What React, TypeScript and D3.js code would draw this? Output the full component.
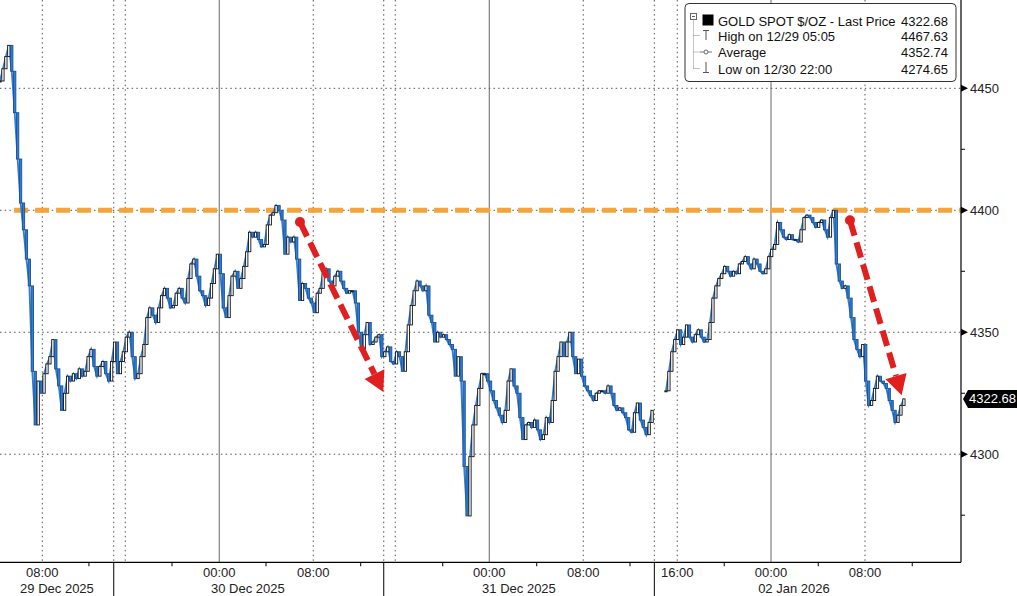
import React from "react";
import * as d3 from "d3";

const W = 1017;
const H = 596;

// 15-minute closes, 29 Dec 04:30 -> 31 Dec 14:00
const decCloses = [
  4453, 4458, 4463, 4467.6, 4457, 4440, 4421, 4403, 4392, 4380, 4369, 4334, 4312, 4330, 4325, 4333,
  4337, 4340, 4347, 4335, 4328, 4318, 4325, 4332, 4330, 4333, 4331, 4335, 4332, 4334, 4340, 4343,
  4336, 4332, 4336, 4338, 4333, 4330, 4338, 4346, 4333, 4338, 4342, 4348, 4350, 4340, 4331, 4333,
  4340, 4345, 4356, 4360, 4357, 4354, 4360, 4365, 4368, 4364, 4360, 4361, 4366, 4368, 4364, 4362,
  4372, 4378, 4380, 4373, 4367, 4365, 4361, 4364, 4370, 4376, 4382, 4374, 4360, 4356, 4365, 4373,
  4375, 4368, 4372, 4377, 4383, 4391, 4389, 4391, 4388, 4385, 4386, 4394, 4398, 4399, 4402, 4400,
  4396, 4382, 4389, 4387, 4389, 4380, 4363, 4370, 4368, 4364, 4362, 4358, 4366, 4368, 4374, 4376,
  4371, 4369, 4373, 4375, 4371, 4368, 4366, 4367, 4367, 4362, 4350, 4343, 4349, 4354, 4345, 4346,
  4348, 4349, 4340, 4342, 4344, 4338, 4337, 4342, 4340, 4334, 4342, 4353, 4361, 4367, 4371, 4369,
  4367, 4369, 4357, 4354, 4346, 4350, 4348, 4349, 4347, 4345, 4343, 4332, 4340, 4330, 4295, 4274.7,
  4299, 4312, 4320, 4327, 4333, 4333, 4330, 4326, 4322, 4319, 4316, 4313, 4318, 4330, 4335, 4328,
  4325, 4315, 4306, 4312, 4313, 4311, 4314, 4310, 4306, 4308, 4315, 4313, 4322, 4334, 4340, 4346,
  4340, 4346, 4350, 4340, 4333, 4339, 4332, 4328, 4326, 4324, 4322, 4325, 4326, 4326, 4325, 4328,
  4325, 4320, 4318, 4319, 4317, 4315, 4310, 4309, 4317, 4321, 4314, 4311, 4308, 4313, 4318,
];

// 15-minute closes, 01 Jan evening -> 02 Jan
const janCloses = [
  4326, 4334, 4342, 4347, 4351, 4345, 4348, 4353, 4348, 4346, 4349, 4351, 4348, 4346, 4347, 4354,
  4364, 4369, 4372, 4374, 4377, 4375, 4373, 4375, 4374, 4378, 4379, 4381, 4378, 4376, 4380, 4378,
  4375, 4374, 4376, 4381, 4384, 4386, 4395, 4392, 4389, 4388, 4390, 4388, 4388, 4387, 4392, 4397,
  4398, 4397, 4395, 4393, 4395, 4396, 4392, 4389, 4397, 4400, 4378, 4371, 4368, 4369, 4364, 4356,
  4347, 4343, 4340, 4345, 4330, 4320, 4322, 4327, 4332, 4330, 4329, 4327, 4322, 4318, 4313, 4316,
  4320, 4322.68,
];

// x positions in compressed session hours (Bloomberg skips non-trading time)
const decStart = 0;
const janStart = 56.68;
const barStep = 0.25;
const xMax = 81.79;

const lastPrice = 4322.68;
const resistance = 4400;
const resistanceFrom = 1.2;
const yMajor = [4300, 4350, 4400, 4450];
const yMinor = [4275, 4325, 4375, 4425];

const timeLabels = [
  { h: 3.6, label: "08:00", midnight: false },
  { h: 18.66, label: "00:00", midnight: true },
  { h: 26.66, label: "08:00", midnight: false },
  { h: 41.64, label: "00:00", midnight: true },
  { h: 49.64, label: "08:00", midnight: false },
  { h: 57.64, label: "16:00", midnight: false },
  { h: 65.62, label: "00:00", midnight: true },
  { h: 73.62, label: "08:00", midnight: false },
];
const sessionOpens = [10.66, 33.64];
const daySeparators = [9.68, 32.66, 55.69];
const minorTimeTicks = [7.57, 14.64, 22.64, 30.7, 37.68, 45.68, 53.62, 61.64, 69.64, 77.64];
const dayLabels = [
  { h: 4.85, label: "29 Dec 2025" },
  { h: 21.1, label: "30 Dec 2025" },
  { h: 44.17, label: "31 Dec 2025" },
  { h: 67.57, label: "02 Jan 2026" },
];

const legendRows = [
  { label: "GOLD SPOT $/OZ - Last Price", value: "4322.68" },
  { label: "High on 12/29 05:05", value: "4467.63" },
  { label: "Average", value: "4352.74" },
  { label: "Low on 12/30 22:00", value: "4274.65" },
];

const arrows = [
  { from: [25.53, 4395.2], to: [32.62, 4325.5] },
  { from: [72.34, 4395.9], to: [76.74, 4324.2] },
];

const plotRight = 961;
const plotBottom = 562.3;

const x = d3.scaleLinear().domain([0, xMax]).range([0, plotRight]);
const y = d3.scaleLinear().domain([4255.7, 4486.2]).range([plotBottom, 0]);

const BLUE = "#2f7fd6";
const axisFont = "'Liberation Sans', Arial, sans-serif";
const narrowFont = "'Liberation Sans Narrow', 'Liberation Sans', Arial, sans-serif";

function bars(closes: number[], start: number) {
  return closes.map((c, i) => ({
    h: start + i * barStep,
    open: i === 0 ? c : closes[i - 1],
    close: c,
  }));
}

const line = d3
  .line<{ h: number; close: number }>()
  .x((d) => x(d.h))
  .y((d) => y(d.close));

function Arrow({ from, to }: { from: number[]; to: number[] }) {
  const x0 = x(from[0]);
  const y0 = y(from[1]);
  const x1 = x(to[0]);
  const y1 = y(to[1]);
  const a = Math.atan2(y1 - y0, x1 - x0);
  const head = 20;
  const half = 11;
  const bx = x1 - head * Math.cos(a);
  const by = y1 - head * Math.sin(a);
  const px = -Math.sin(a);
  const py = Math.cos(a);
  const pts = [
    [x1, y1],
    [bx + half * px, by + half * py],
    [bx - half * px, by - half * py],
  ];
  return (
    <g>
      <line x1={x0} y1={y0} x2={bx} y2={by} stroke="#e01f1f" strokeWidth={6} strokeDasharray="16 7" />
      <circle cx={x0} cy={y0} r={5} fill="#e01f1f" />
      <polygon points={pts.map((p) => p.join(",")).join(" ")} fill="#e01f1f" />
    </g>
  );
}

export default function App() {
  const segments = [bars(decCloses, decStart), bars(janCloses, janStart)];
  const bw = 2.3;

  return (
    <svg
      width={W}
      height={H}
      style={{ position: "absolute", left: 0, top: 0, background: "#fff" }}
    >
      {/* horizontal grid */}
      {yMajor.map((v) => (
        <line key={"hg" + v} x1={0} x2={plotRight} y1={y(v)} y2={y(v)} stroke="#555" strokeWidth={1} strokeDasharray="1.5 3.2" />
      ))}
      {/* vertical grid */}
      {timeLabels.map((t) => (
        <line
          key={"vg" + t.h}
          x1={x(t.h)}
          x2={x(t.h)}
          y1={0}
          y2={plotBottom}
          stroke={t.midnight ? "#666" : "#555"}
          strokeWidth={1}
          strokeDasharray={t.midnight ? undefined : "1.5 3.2"}
        />
      ))}
      {[...sessionOpens, ...daySeparators].map((h) => (
        <line key={"vs" + h} x1={x(h)} x2={x(h)} y1={0} y2={plotBottom} stroke="#555" strokeWidth={1} strokeDasharray="1.5 3.2" />
      ))}

      {/* resistance line */}
      <line
        x1={x(resistanceFrom)}
        x2={plotRight}
        y1={y(resistance)}
        y2={y(resistance)}
        stroke="#f4a43a"
        strokeWidth={5}
        strokeDasharray="14 7"
      />

      {/* price */}
      {segments.map((seg, si) => (
        <g key={"s" + si}>
          <path d={line(seg) || ""} fill="none" stroke={BLUE} strokeWidth={1.8} />
          {seg.map((b, i) => {
            const up = b.close >= b.open;
            const top = y(Math.max(b.open, b.close));
            const bot = y(Math.min(b.open, b.close));
            return (
              <rect
                key={i}
                x={x(b.h) - bw / 2}
                y={top}
                width={bw}
                height={Math.max(bot - top, 1)}
                fill={up ? "#fff" : BLUE}
                stroke={up ? "#111" : "#1b4f94"}
                strokeWidth={0.9}
              />
            );
          })}
        </g>
      ))}

      {arrows.map((a, i) => (
        <Arrow key={"a" + i} from={a.from} to={a.to} />
      ))}

      {/* axes */}
      <line x1={0} x2={plotRight} y1={plotBottom} y2={plotBottom} stroke="#000" strokeWidth={1.2} />
      <line x1={plotRight} x2={plotRight} y1={0} y2={plotBottom} stroke="#000" strokeWidth={1.2} />
      {minorTimeTicks.map((h) => (
        <line key={"mt" + h} x1={x(h)} x2={x(h)} y1={plotBottom} y2={plotBottom + 4} stroke="#000" />
      ))}
      {daySeparators.map((h) => (
        <line key={"ds" + h} x1={x(h)} x2={x(h)} y1={plotBottom} y2={H} stroke="#000" />
      ))}
      {timeLabels.map((t) => (
        <text key={"tl" + t.h} x={x(t.h)} y={577} textAnchor="middle" fontFamily={narrowFont} fontSize={13} fill="#222">
          {t.label}
        </text>
      ))}
      {dayLabels.map((d) => (
        <text key={"dl" + d.h} x={x(d.h)} y={593} textAnchor="middle" fontFamily={narrowFont} fontSize={13} fill="#222">
          {d.label}
        </text>
      ))}

      {/* right axis */}
      {yMinor.map((v) => (
        <line key={"ym" + v} x1={plotRight} x2={plotRight + 4} y1={y(v)} y2={y(v)} stroke="#000" />
      ))}
      {yMajor.map((v) => (
        <g key={"yl" + v}>
          <polygon
            points={`${plotRight},${y(v) - 3.5} ${plotRight + 7},${y(v)} ${plotRight},${y(v) + 3.5}`}
            fill="#000"
          />
          <text x={plotRight + 9} y={y(v) + 4.5} fontFamily={axisFont} fontSize={13} fill="#222">
            {v}
          </text>
        </g>
      ))}
      <g>
        <polygon
          points={`${plotRight + 2},${y(lastPrice)} ${plotRight + 7},${y(lastPrice) - 9} ${W},${y(lastPrice) - 9} ${W},${y(lastPrice) + 9} ${plotRight + 7},${y(lastPrice) + 9}`}
          fill="#000"
        />
        <text x={plotRight + 8} y={y(lastPrice) + 4.5} fontFamily={axisFont} fontSize={13} fill="#fff">
          {lastPrice.toFixed(2)}
        </text>
      </g>

      {/* legend */}
      <g>
        <rect x={685} y={3.5} width={271} height={78} rx={4} fill="#fff" stroke="#333" strokeWidth={1} />
        <rect x={690.5} y={13.5} width={6} height={6} fill="#fff" stroke="#666" />
        <line x1={692} x2={695} y1={16.5} y2={16.5} stroke="#666" />
        <line x1={693.5} x2={693.5} y1={19.5} y2={69} stroke="#888" strokeDasharray="1 1" />
        {[35.5, 52, 68.5].map((yy) => (
          <line key={"tr" + yy} x1={693.5} x2={700} y1={yy} y2={yy} stroke="#888" strokeDasharray="1 1" />
        ))}
        <rect x={702.5} y={14.5} width={11} height={11} fill="#000" />
        <line x1={703} x2={709} y1={30.5} y2={30.5} stroke="#555" />
        <line x1={706} x2={706} y1={30.5} y2={40} stroke="#555" />
        <line x1={700} x2={712} y1={52} y2={52} stroke="#777" />
        <circle cx={706} cy={52} r={2} fill="#fff" stroke="#666" />
        <line x1={706} x2={706} y1={62} y2={72} stroke="#555" />
        <line x1={703} x2={709} y1={72.5} y2={72.5} stroke="#555" />
        {legendRows.map((r, i) => {
          const by = [25.5, 40.5, 57, 73.5][i];
          return (
            <g key={"lg" + i}>
              <text x={718} y={by} fontFamily={axisFont} fontSize={13} fill="#111">
                {r.label}
              </text>
              <text x={948} y={by} textAnchor="end" fontFamily={axisFont} fontSize={13} fill="#111">
                {r.value}
              </text>
            </g>
          );
        })}
      </g>
    </svg>
  );
}
